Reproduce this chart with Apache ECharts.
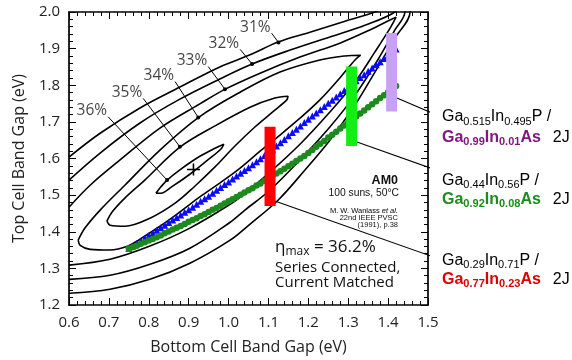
<!DOCTYPE html>
<html><head><meta charset="utf-8">
<script src="https://cdn.jsdelivr.net/npm/echarts@6/dist/echarts.min.js"></script>
<style>html,body{margin:0;padding:0;background:#fff}#c{width:572px;height:360px}</style>
</head><body><div id="c"></div>
<script>
// Bottom-cell band gap (eV) for the two composition tracks
const bottomGap = [0.75,0.76,0.77,0.78,0.79,0.80,0.81,0.82,0.83,0.84,0.85,0.86,0.87,0.88,0.89,0.90,0.91,0.92,0.93,0.94,0.95,0.96,0.97,0.98,0.99,1.00,1.01,1.02,1.03,1.04,1.05,1.06,1.07,1.08,1.09,1.10,1.11,1.12,1.13,1.14,1.15,1.16,1.17,1.18,1.19,1.20,1.21,1.22,1.23,1.24,1.25,1.26,1.27,1.28,1.29,1.30,1.31,1.32,1.33,1.34,1.35,1.36,1.37,1.38,1.39,1.40,1.41,1.42];
// Top-cell band gap (eV), triangle track
const topGapTriangle = [1.355,1.361,1.368,1.375,1.382,1.389,1.396,1.404,1.411,1.418,1.425,1.432,1.439,1.446,1.453,1.460,1.467,1.475,1.483,1.490,1.497,1.505,1.513,1.521,1.529,1.536,1.544,1.552,1.560,1.567,1.575,1.583,1.591,1.599,1.608,1.616,1.625,1.634,1.643,1.652,1.662,1.671,1.680,1.689,1.698,1.707,1.716,1.724,1.733,1.742,1.751,1.759,1.768,1.777,1.786,1.794,1.803,1.812,1.821,1.829,1.838,1.847,1.856,1.864,1.873,1.882,1.891,1.899];
// Top-cell band gap (eV), circle track
const topGapCircle = [1.354,1.358,1.362,1.367,1.371,1.376,1.380,1.385,1.390,1.396,1.401,1.406,1.411,1.416,1.421,1.427,1.432,1.437,1.443,1.448,1.454,1.460,1.465,1.471,1.477,1.483,1.489,1.495,1.501,1.507,1.513,1.519,1.526,1.532,1.539,1.545,1.552,1.559,1.565,1.572,1.579,1.586,1.593,1.600,1.607,1.615,1.623,1.632,1.640,1.648,1.657,1.665,1.673,1.682,1.690,1.698,1.706,1.715,1.723,1.731,1.740,1.748,1.756,1.765,1.773,1.781,1.790,1.798];

// Iso-efficiency contours [bottom gap, top gap]
const contour31 = [[0.600,1.232],[0.703,1.243],[0.803,1.270],[0.903,1.314],[1.004,1.377],[1.054,1.421],[1.124,1.486],[1.191,1.568],[1.254,1.650],[1.317,1.746],[1.367,1.836],[1.417,1.929],[1.455,2.000],[1.442,2.035],[1.367,2.000],[1.292,1.975],[1.204,1.945],[1.124,1.918],[1.054,1.883],[0.978,1.850],[0.878,1.795],[0.778,1.738],[0.678,1.669],[0.600,1.604]];
const contour32 = [[0.600,1.270],[0.703,1.281],[0.803,1.311],[0.903,1.355],[1.004,1.426],[1.041,1.459],[1.104,1.514],[1.179,1.596],[1.254,1.686],[1.317,1.773],[1.374,1.869],[1.417,1.951],[1.442,2.000],[1.432,2.030],[1.417,2.000],[1.342,1.964],[1.254,1.932],[1.154,1.896],[1.059,1.858],[0.978,1.817],[0.878,1.762],[0.778,1.697],[0.678,1.615],[0.600,1.541]];
const contour33 = [[0.600,1.309],[0.703,1.325],[0.803,1.361],[0.903,1.410],[1.004,1.475],[1.041,1.505],[1.104,1.563],[1.179,1.639],[1.254,1.727],[1.317,1.809],[1.367,1.891],[1.405,1.956],[1.420,1.986],[1.410,1.981],[1.354,1.951],[1.279,1.915],[1.179,1.877],[1.079,1.833],[0.993,1.790],[0.928,1.749],[0.828,1.683],[0.728,1.596],[0.653,1.527],[0.600,1.467]];
const contour34 = [[0.623,1.377],[0.640,1.410],[0.678,1.459],[0.740,1.527],[0.828,1.623],[0.926,1.713],[1.029,1.781],[1.129,1.836],[1.229,1.869],[1.292,1.880],[1.331,1.882],[1.317,1.869],[1.279,1.820],[1.229,1.760],[1.179,1.710],[1.129,1.664],[1.079,1.620],[1.029,1.574],[0.978,1.533],[0.928,1.495],[0.878,1.454],[0.828,1.415],[0.778,1.380],[0.748,1.361],[0.703,1.350],[0.653,1.352],[0.628,1.363],[0.623,1.377]];
const contour35 = [[0.695,1.429],[0.708,1.454],[0.740,1.492],[0.790,1.541],[0.878,1.631],[0.966,1.689],[1.054,1.740],[1.116,1.765],[1.149,1.770],[1.146,1.760],[1.116,1.732],[1.066,1.686],[1.016,1.634],[0.966,1.577],[0.916,1.525],[0.866,1.478],[0.803,1.437],[0.740,1.415],[0.703,1.418],[0.695,1.429]];
const contour36 = [[0.818,1.505],[0.830,1.522],[0.846,1.541],[0.878,1.569],[0.928,1.606],[0.966,1.628],[0.988,1.639],[0.981,1.626],[0.948,1.596],[0.903,1.557],[0.858,1.523],[0.830,1.505],[0.818,1.505]];

// Contour level tags and their leader lines
const contourLabels = ['31%','32%','33%','34%','35%','36%'];
const leaderFrom = [[1.108,1.942],[1.029,1.898],[0.949,1.851],[0.866,1.810],[0.786,1.764],[0.698,1.714]];
const leaderTo = [[1.125,1.917],[1.059,1.858],[0.991,1.789],[0.924,1.712],[0.878,1.632],[0.846,1.541]];

// Maximum-efficiency point
const optimum = [0.912, 1.570];

// Lattice-matched composition ranges: bottom gap, top-gap span
const barGap = [1.104, 1.3085, 1.4088];
const barLow = [1.470, 1.634, 1.728];
const barHigh = [1.687, 1.851, 1.943];
const barColor = ['#ff0000', '#14ee14', '#c9a1f3'];
// callout line from each bar to its composition tag
const calloutFrom = [[1.116,1.484],[1.322,1.645],[1.422,1.765]];
const calloutTo = [[1.522,1.328],[1.522,1.568],[1.522,1.719]];

const chart = echarts.init(document.getElementById('c'), null, {renderer: 'canvas'});
const axisFont = '"Open Sans"';
const pairs = (xs, ys) => xs.map((x, i) => [x, ys[i]]);

function baseAxis(extra) {
  return Object.assign({
    type: 'value',
    axisLine: {show: true, onZero: false, lineStyle: {color: '#000', width: 1.7}},
    axisTick: {show: true, inside: true, length: 7, lineStyle: {color: '#000', width: 1}},
    minorTick: {show: true, splitNumber: 5, length: 4, lineStyle: {color: '#000', width: 1}},
    splitLine: {show: false},
    minorSplitLine: {show: false}
  }, extra);
}

const series = [];
[contour31, contour32, contour33, contour34, contour35, contour36].forEach((c, i) => {
  series.push({
    name: 'contour ' + contourLabels[i], type: 'line', data: c, smooth: 0.35,
    symbol: 'none', lineStyle: {color: '#000', width: 1.6}, z: 2, silent: true
  });
});
contourLabels.forEach((lab, i) => {
  series.push({
    type: 'line', data: [leaderFrom[i], leaderTo[i]], symbol: 'none',
    lineStyle: {color: '#000', width: 1}, z: 3, silent: true
  });
  series.push({
    type: 'scatter', data: [leaderFrom[i]], symbolSize: 0, z: 4, silent: true,
    label: {show: true, position: 'left', distance: 1, offset: [0, -6], formatter: lab,
      fontFamily: axisFont, fontSize: 15.5, color: '#111'}
  });
});
series.push({type: 'scatter', data: leaderTo, symbol: 'circle', symbolSize: 4,
  itemStyle: {color: '#000', opacity: 1}, z: 4, silent: true});
series.push({type: 'scatter', data: [optimum], z: 4, silent: true, symbolSize: [13, 12],
  symbol: 'path://M4.4,0H5.6V4.4H10V5.6H5.6V10H4.4V5.6H0V4.4H4.4Z', itemStyle: {color: '#000', opacity: 1}});
series.push({type: 'scatter', name: 'triangles', data: pairs(bottomGap, topGapTriangle),
  symbol: 'triangle', symbolSize: 7, itemStyle: {color: '#0a0aff', opacity: 1}, z: 5});
series.push({type: 'scatter', name: 'circles', data: pairs(bottomGap, topGapCircle),
  symbol: 'circle', symbolSize: 6.5, itemStyle: {color: '#1c8a1c', opacity: 1}, z: 5});
barGap.forEach((g, i) => {
  series.push({type: 'line', data: [[g, barLow[i]], [g, barHigh[i]]], symbol: 'none',
    lineStyle: {color: barColor[i], width: 11, cap: 'butt'}, z: 7, silent: true});
  series.push({type: 'line', data: [calloutFrom[i], calloutTo[i]], symbol: 'none', clip: false,
    lineStyle: {color: '#000', width: 1.1}, z: 6, silent: true});
});

const LS = '"Liberation Sans", Arial, sans-serif';
function tagRich(color) {
  return {
    m: {font: '16px ' + LS, lineHeight: 20, fill: '#000'},
    s: {font: '11px ' + LS, lineHeight: 11, verticalAlign: 'bottom', fill: '#000'},
    c: {font: 'bold 16px ' + LS, lineHeight: 20, fill: color},
    cs: {font: 'bold 11px ' + LS, lineHeight: 11, verticalAlign: 'bottom', fill: color},
    j: {font: '16px ' + LS, lineHeight: 20, fill: '#000', padding: [0, 0, 0, 12]}
  };
}
function tag(y, text, color) {
  return {type: 'text', x: 442, y: y, z: 10,
    style: {text: text, rich: tagRich(color), align: 'left', verticalAlign: 'middle',
      textAlign: 'left', textVerticalAlign: 'middle'}};
}
function note(x, y, text, font, align) {
  return {type: 'text', x: x, y: y, z: 10, style: {text: text, font: font, fill: '#111',
    align: align, verticalAlign: 'middle', textAlign: align, textVerticalAlign: 'middle'}};
}

const graphic = [
  tag(117, '{m|Ga}{s|0.515}{m|In}{s|0.495}{m|P /}', '#80187f'),
  tag(137.5, '{c|Ga}{cs|0.99}{c|In}{cs|0.01}{c|As}{j|2J}', '#80187f'),
  tag(180.5, '{m|Ga}{s|0.44}{m|In}{s|0.56}{m|P /}', '#1f8a1f'),
  tag(199.5, '{c|Ga}{cs|0.92}{c|In}{cs|0.08}{c|As}{j|2J}', '#1f8a1f'),
  tag(260.5, '{m|Ga}{s|0.29}{m|In}{s|0.71}{m|P /}', '#dd0000'),
  tag(279.5, '{c|Ga}{cs|0.77}{c|In}{cs|0.23}{c|As}{j|2J}', '#dd0000'),
  note(398, 181, 'AM0', 'bold 12.5px ' + LS, 'right'),
  note(399, 193.5, '100 suns, 50°C', '10.3px ' + LS, 'right'),
  {type: 'text', x: 398, y: 210.5, z: 10, style: {
    text: '{n|M. W. Wanlass }{i|et al.}', align: 'right', verticalAlign: 'middle',
    textAlign: 'right', textVerticalAlign: 'middle',
    rich: {n: {font: '7.5px ' + LS, fill: '#000'}, i: {font: 'italic 7.5px ' + LS, fill: '#000'}}}},
  note(398, 217.8, '22nd IEEE PVSC', '7.5px ' + LS, 'right'),
  note(398, 225, '(1991), p.38', '7.5px ' + LS, 'right'),
  {type: 'text', x: 275, y: 247, z: 10, style: {
    text: '{e|η}{x|max}{e| = 36.2%}', align: 'left', verticalAlign: 'middle',
    textAlign: 'left', textVerticalAlign: 'middle',
    rich: {e: {font: '17px ' + axisFont, lineHeight: 22, fill: '#111'},
      x: {font: '12px ' + axisFont, lineHeight: 12, verticalAlign: 'bottom', fill: '#111'}}}},
  note(275, 267.5, 'Series Connected,', '15px ' + axisFont, 'left'),
  note(275, 282.5, 'Current Matched', '15px ' + axisFont, 'left')
];

chart.setOption({
  animation: false,
  backgroundColor: '#fff',
  grid: {left: 69, right: 144, top: 12, bottom: 55, containLabel: false},
  xAxis: [
    baseAxis({position: 'bottom', min: 0.6, max: 1.5, interval: 0.1,
      axisLabel: {margin: 10, fontFamily: axisFont, fontSize: 15, color: '#222',
        formatter: v => v.toFixed(1)},
      name: 'Bottom Cell Band Gap (eV)', nameLocation: 'middle', nameGap: 34,
      nameTextStyle: {fontFamily: axisFont, fontSize: 16, color: '#222'}}),
    baseAxis({position: 'top', min: 0.6, max: 1.5, interval: 0.1, axisLabel: {show: false}})
  ],
  yAxis: [
    baseAxis({position: 'left', min: 1.2, max: 2.0, interval: 0.1,
      axisLabel: {margin: 9, fontFamily: axisFont, fontSize: 15, color: '#222',
        formatter: v => v.toFixed(1)},
      name: 'Top Cell Band Gap (eV)', nameLocation: 'middle', nameGap: 42,
      nameTextStyle: {fontFamily: axisFont, fontSize: 16, color: '#222'}}),
    baseAxis({position: 'right', min: 1.2, max: 2.0, interval: 0.1, axisLabel: {show: false}})
  ],
  series: series,
  graphic: graphic
});
</script></body></html>
